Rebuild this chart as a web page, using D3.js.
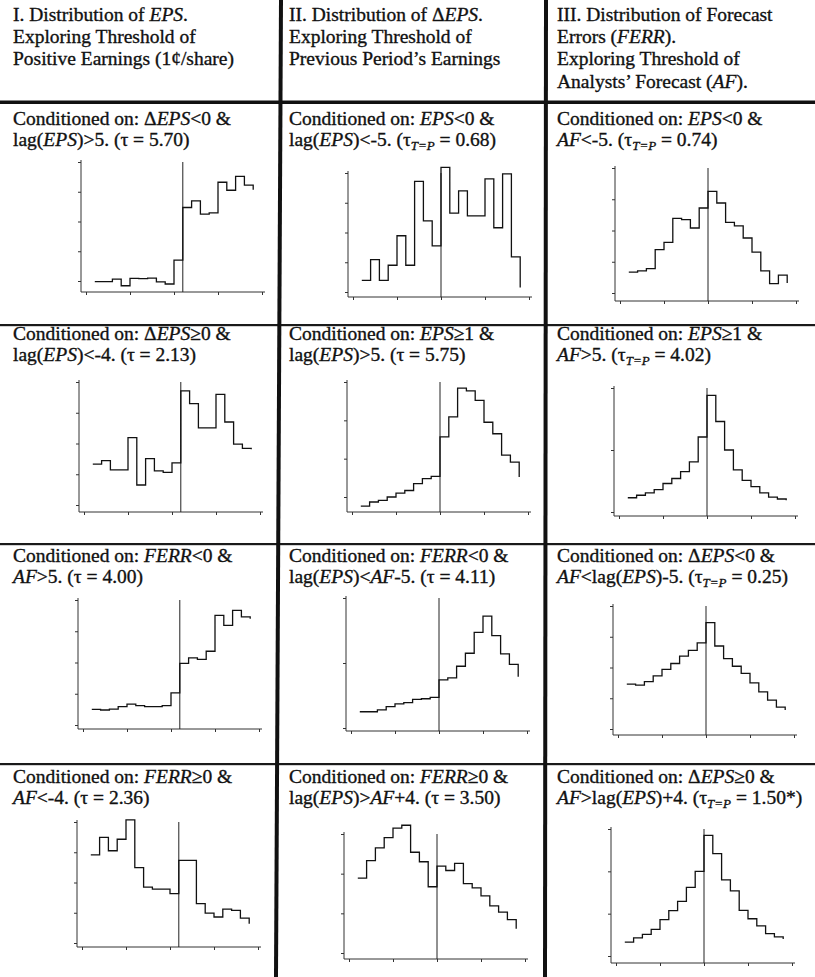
<!DOCTYPE html>
<html>
<head>
<meta charset="utf-8">
<script src="https://cdn.jsdelivr.net/npm/d3@7"></script>
<style>
  body { margin: 0; background: #fff; }
  svg text { font-family: "Liberation Serif", "Times New Roman", serif; font-size: 19.5px; fill: #111; stroke: #111; stroke-width: 0.35px; }
</style>
</head>
<body>
<div id="chart-area"></div>
<script>
/*
*    histogram panels, step style
*/

// bins (cents), x ticks, threshold per column
var xBins = [-9, -8, -7, -6, -5, -4, -3, -2, -1, 0, 1, 2, 3, 4, 5, 6, 7, 8, 9];
var xTicks = [-10, -5, 0, 5, 10];
var thresholds = [1, 0, 0];

// y ticks (no labels in the original, tick units)
var ticks3 = [1, 2, 3];
var ticks4 = [1, 2, 3, 4];
var ticks5 = [1, 2, 3, 4, 5];

// frequencies, in tick units
var valsR1C1 = [0.98, 0.98, 1.06, 0.84, 1.09, 1.08, 1.10, 0.97, 0.90, 1.70, 3.47, 3.69, 3.25, 3.29, 4.32, 4.05, 4.52, 4.22, 4.07];
var valsR1C2 = [1.39, 2.09, 1.39, 1.90, 2.89, 1.90, 4.72, 3.39, 2.55, 5.19, 3.65, 4.40, 3.56, 3.56, 4.80, 3.16, 4.97, 2.18, 1.15];
var valsR1C3 = [1.67, 1.71, 1.78, 2.39, 2.62, 3.39, 3.35, 3.08, 3.72, 4.25, 3.88, 3.26, 3.15, 2.76, 2.31, 1.71, 1.30, 1.57, 1.32];
var valsR2C1 = [2.33, 2.44, 2.14, 2.14, 3.19, 1.65, 2.51, 2.11, 2.06, 2.37, 4.71, 4.30, 3.51, 3.51, 4.60, 3.70, 2.98, 2.84, 2.81];
var valsR2C2 = [0.76, 0.87, 0.91, 1.00, 1.10, 1.17, 1.35, 1.48, 1.54, 2.57, 3.09, 3.84, 3.77, 3.52, 2.95, 2.65, 2.09, 1.91, 1.52];
var valsR2C3 = [1.23, 1.27, 1.31, 1.36, 1.46, 1.54, 1.65, 1.81, 2.21, 2.88, 2.46, 2.00, 1.68, 1.51, 1.41, 1.31, 1.24, 1.21, 1.19];
var valsR3C1 = [1.50, 1.48, 1.51, 1.59, 1.67, 1.62, 1.59, 1.59, 1.62, 2.03, 2.97, 3.15, 3.10, 3.36, 4.51, 4.19, 4.67, 4.46, 4.40];
var valsR3C2 = [1.25, 1.25, 1.28, 1.33, 1.37, 1.39, 1.44, 1.45, 1.47, 1.74, 1.77, 1.95, 2.15, 2.47, 2.72, 2.42, 2.14, 1.98, 1.79];
var valsR3C3 = [2.46, 2.43, 2.54, 2.73, 2.94, 3.13, 3.37, 3.56, 3.80, 4.46, 3.70, 3.29, 3.04, 2.81, 2.50, 2.21, 1.94, 1.71, 1.62];
var valsR4C1 = [3.91, 4.49, 4.05, 4.43, 5.07, 3.49, 2.85, 2.78, 2.78, 2.63, 3.73, 3.73, 2.30, 1.99, 1.86, 2.12, 2.08, 1.82, 1.64];
var valsR4C2 = [2.89, 3.33, 3.65, 3.91, 4.15, 4.22, 3.54, 3.30, 2.67, 3.19, 3.08, 3.26, 2.75, 2.64, 2.44, 2.19, 2.03, 1.84, 1.61];
var valsR4C3 = [1.33, 1.43, 1.51, 1.63, 1.86, 2.07, 2.29, 2.62, 3.00, 3.85, 3.42, 2.80, 2.54, 2.08, 1.88, 1.71, 1.53, 1.45, 1.40];

// texts: {..} = italic, _{..} = italic subscript
var headers = [
    ["I. Distribution of {EPS}.", "Exploring Threshold of", "Positive Earnings (1\u00a2/share)"],
    ["II. Distribution of \u0394{EPS}.", "Exploring Threshold of", "Previous Period\u2019s Earnings"],
    ["III. Distribution of Forecast", "Errors ({FERR}).", "Exploring Threshold of", "Analysts\u2019 Forecast ({AF})."]
];

var conditions = [
    ["Conditioned on: \u0394{EPS}<0 &", "lag({EPS})>5. (\u03c4 = 5.70)"],
    ["Conditioned on: {EPS}<0 &", "lag({EPS})<-5. (\u03c4_{T=P} = 0.68)"],
    ["Conditioned on: {EPS}<0 &", "{AF}<-5. (\u03c4_{T=P} = 0.74)"],
    ["Conditioned on: \u0394{EPS}\u22650 &", "lag({EPS})<-4. (\u03c4 = 2.13)"],
    ["Conditioned on: {EPS}\u22651 &", "lag({EPS})>5. (\u03c4 = 5.75)"],
    ["Conditioned on: {EPS}\u22651 &", "{AF}>5. (\u03c4_{T=P} = 4.02)"],
    ["Conditioned on: {FERR}<0 &", "{AF}>5. (\u03c4 = 4.00)"],
    ["Conditioned on: {FERR}<0 &", "lag({EPS})<{AF}-5. (\u03c4 = 4.11)"],
    ["Conditioned on: \u0394{EPS}<0 &", "{AF}<lag({EPS})-5. (\u03c4_{T=P} = 0.25)"],
    ["Conditioned on: {FERR}\u22650 &", "{AF}<-4. (\u03c4 = 2.36)"],
    ["Conditioned on: {FERR}\u22650 &", "lag({EPS})>{AF}+4. (\u03c4 = 3.50)"],
    ["Conditioned on: \u0394{EPS}\u22650 &", "{AF}>lag({EPS})+4. (\u03c4_{T=P} = 1.50*)"]
];

var panelVals = [valsR1C1, valsR1C2, valsR1C3, valsR2C1, valsR2C2, valsR2C3,
                 valsR3C1, valsR3C2, valsR3C3, valsR4C1, valsR4C2, valsR4C3];
var panelTicks = [ticks5, ticks5, ticks5, ticks5, ticks4, ticks3,
                  ticks5, ticks3, ticks5, ticks5, ticks4, ticks4];

// layout: y-axis x, top tick y, bottom tick y, x-axis y
var layout = [
    [81, 162, 281, 292], [348, 173, 292, 297], [615, 168, 293, 301],
    [79, 382, 505, 512], [347, 382, 497, 512], [614, 388, 512, 516],
    [78, 600, 725, 729], [346, 598, 728, 731], [613, 606, 729, 735],
    [77, 822, 943, 947], [344, 834, 953, 959], [611, 829, 956, 963]
];
var textX = [13, 289, 557];
var headerY = [21, 43, 65, 88];
var condY = [[125, 146], [340, 361], [562, 583], [783, 804]];

var svg = d3.select("#chart-area").append("svg")
    .attr("width", 815)
    .attr("height", 977);

function richText(x, y, str) {
    var t = svg.append("text").attr("x", x).attr("y", y);
    var parts = str.split(/(_\{[^}]+\}|\{[^}]+\})/).filter(function(s) { return s.length; });
    var shift = 0;
    parts.forEach(function(p) {
        var ts = t.append("tspan");
        if (p.indexOf("_{") === 0) {
            ts.text(p.slice(2, -1))
                .style("font-style", "italic")
                .style("font-size", "13px")
                .attr("dy", 4);
            shift = 4;
        } else {
            if (p[0] === "{") {
                ts.text(p.slice(1, -1)).style("font-style", "italic");
            } else {
                ts.text(p);
            }
            if (shift) { ts.attr("dy", -shift); shift = 0; }
        }
    });
}

// table rules
svg.append("rect").attr("x", 0).attr("y", 100.5).attr("width", 815).attr("height", 3.5).attr("fill", "#111");
[325, 544, 764].forEach(function(y) {
    svg.append("rect").attr("x", 0).attr("y", y - 1).attr("width", 815).attr("height", 2.2).attr("fill", "#1a1a1a");
});
svg.append("line").attr("x1", 281).attr("y1", 0).attr("x2", 276).attr("y2", 977)
    .attr("stroke", "#111").attr("stroke-width", 4);
svg.append("line").attr("x1", 546).attr("y1", 0).attr("x2", 545).attr("y2", 977)
    .attr("stroke", "#111").attr("stroke-width", 4);

// headers
headers.forEach(function(lines, c) {
    lines.forEach(function(s, i) { richText(textX[c], headerY[i], s); });
});

// panels
panelVals.forEach(function(vals, k) {
    var r = Math.floor(k / 3), c = k % 3;
    var L = layout[k];
    var ticks = panelTicks[k];

    conditions[k].forEach(function(s, i) { richText(textX[c], condY[r][i], s); });

    var x = d3.scaleLinear().domain([-10, 10]).range([L[0] + 5, L[0] + 181]);
    var y = d3.scaleLinear().domain([ticks[0], ticks[ticks.length - 1]]).range([L[2], L[1]]);

    var g = svg.append("g");

    // y axis
    g.append("g")
        .attr("transform", "translate(" + L[0] + ",0)")
        .call(d3.axisLeft(y).tickValues(ticks).tickSize(3).tickFormat(""))
        .call(function(a) {
            a.select(".domain").attr("d", "M0," + (L[1] - 2) + "V" + L[3]);
        });

    // x axis
    g.append("g")
        .attr("transform", "translate(0," + L[3] + ")")
        .call(d3.axisBottom(x).tickValues(xTicks).tickSize(3).tickFormat(""))
        .call(function(a) {
            a.select(".domain").attr("d", "M" + L[0] + ",0H" + (L[0] + 184));
        });

    g.selectAll(".domain, .tick line").attr("stroke", "#333").attr("stroke-width", 1);

    // threshold
    g.append("line")
        .attr("x1", x(thresholds[c])).attr("x2", x(thresholds[c]))
        .attr("y1", L[1]).attr("y2", L[3])
        .attr("stroke", "#222").attr("stroke-width", 1);

    // step histogram
    var line = d3.line()
        .x(function(d, i) { return x(xBins[i]); })
        .y(function(d) { return y(d); })
        .curve(d3.curveStepAfter);

    g.append("path")
        .datum(vals)
        .attr("d", line)
        .attr("fill", "none")
        .attr("stroke", "#111")
        .attr("stroke-width", 1.3);
});
</script>
</body>
</html>
